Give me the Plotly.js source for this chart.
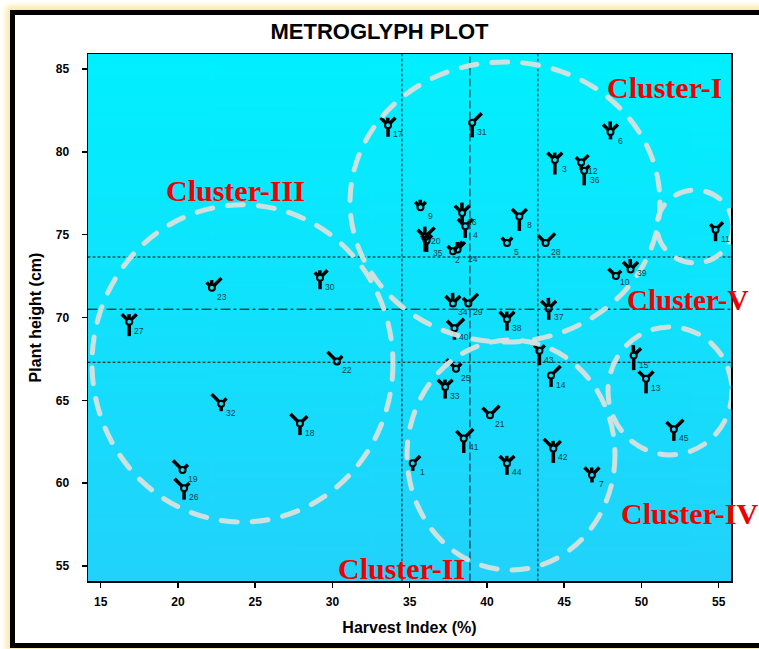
<!DOCTYPE html>
<html>
<head>
<meta charset="utf-8">
<script src="https://cdn.plot.ly/plotly-3.0.1.min.js"></script>
<style>
  html, body { margin:0; padding:0; background:#ffffff; overflow:hidden; width:759px; height:649px; }
  #frame { position:absolute; left:10px; top:10px; width:760px; height:628px; border:5px solid #000; border-right:none;
           background:#fff; box-shadow:0 0 6px 4px #f8e9a6; }
  #chart { position:absolute; left:0; top:0; width:759px; height:649px; }
</style>
</head>
<body>
<div id="frame"></div>
<div id="chart"></div>
<script>
// ---- data ----
const genotypes = ['1','2','3','4','5','6','7','8','9','10','11','12','13','14','15','16','17','18','19','20','21','22','23','24','25','26','27','28','29','30','31','32','33','34','35','36','37','38','39','40','41','42','43','44','45'];
const harvestIndex = [35.2,37.8,44.4,38.6,41.3,48.0,46.8,42.1,35.7,48.35,54.8,46.1,50.3,44.15,49.5,38.4,33.6,27.9,20.3,36.0,40.2,30.3,22.2,38.1,38.0,20.4,16.85,43.8,38.8,29.2,39.05,22.8,37.3,37.8,36.1,46.3,44.0,41.3,49.3,37.9,38.5,44.3,43.4,41.3,52.1];
const plantHeight = [61.2,74.0,79.5,75.5,74.5,81.2,60.5,76.1,76.65,72.5,75.3,79.35,66.3,66.5,67.7,76.3,81.6,63.6,60.8,74.85,64.1,67.35,71.8,74.1,66.9,59.7,69.75,74.5,70.85,72.4,81.75,64.8,65.8,70.85,74.65,78.85,70.55,69.9,72.9,69.35,62.7,62.1,68.0,61.2,63.25];
// glyph ray levels (0 = absent, 1 = low, 2 = medium, 3 = high)
const stemLevel = [1,0,3,2,0,1,1,3,0,0,2,1,3,2,3,2,2,2,0,3,0,0,0,0,0,2,3,0,0,2,3,1,2,0,2,3,2,2,0,2,3,3,3,2,2];
const upLeftLevel = [0,1,2,2,1,2,2,2,1,2,1,1,2,0,0,2,2,3,3,2,2,3,1,0,3,3,2,2,1,1,0,3,2,2,1,0,2,2,2,2,2,3,1,2,2];
const upLevel = [0,0,1,0,0,2,1,0,1,0,0,0,0,0,2,2,1,0,0,2,0,0,1,1,0,0,1,0,0,1,0,0,1,2,1,0,2,1,2,0,0,1,0,1,0];
const upRightLevel = [2,3,2,2,1,2,2,2,1,1,2,2,2,3,2,2,2,2,1,3,3,1,3,2,1,1,2,3,3,2,3,1,2,2,1,1,2,2,2,3,3,2,1,2,3];
// reference lines
const hiLines = [34.5, 38.9, 43.3];
const phLines = [67.3, 70.5, 73.65];
// clusters (centre and radii in data units)
const clusterNames = ['Cluster-I','Cluster-II','Cluster-III','Cluster-IV','Cluster-V'];
const clusterCx = [41.17, 41.56, 24.18, 51.85, 53.47];
const clusterCy = [76.97, 61.70, 67.23, 65.57, 75.49];
const clusterRx = [10.03, 6.73, 9.74, 4.01, 2.46];
const clusterRy = [8.45, 6.94, 9.57, 3.86, 2.20];
const xTicks = [15,20,25,30,35,40,45,50,55];
const yTicks = [55,60,65,70,75,80,85];

// ---- layout geometry ----
const W = 759, H = 649;
const M = {l:88, r:28, t:54, b:68};
const xRange = [14.18, 55.8], yRange = [54.1, 85.9];
const pw = W - M.l - M.r, ph = H - M.t - M.b;
const xpp = (xRange[1]-xRange[0])/pw, ypp = (yRange[1]-yRange[0])/ph;

const rayLen = [0, 5, 8, 11];
const stemLen = [0, 5, 9, 12];
const rays = [
  {lv: stemLevel, ang: -90, len: stemLen},
  {lv: upLeftLevel, ang: 135, len: rayLen},
  {lv: upLevel, ang: 92, len: rayLen},
  {lv: upRightLevel, ang: 45, len: rayLen}
];
const rx = [], ry = [];
const r0 = 2.5;
for (let i = 0; i < genotypes.length; i++) {
  rays.forEach(r => {
    const L = r.len[r.lv[i]];
    if (!L) return;
    const a = r.ang * Math.PI/180;
    rx.push(harvestIndex[i] + Math.cos(a)*r0*xpp, harvestIndex[i] + Math.cos(a)*(r0+L)*xpp, null);
    ry.push(plantHeight[i] + Math.sin(a)*r0*ypp, plantHeight[i] + Math.sin(a)*(r0+L)*ypp, null);
  });
}

const traces = [
  {type:'scatter', mode:'lines', x:rx, y:ry, line:{color:'#000', width:3.5}, hoverinfo:'skip', showlegend:false},
  {type:'scatter', mode:'markers', x:harvestIndex, y:plantHeight, text:genotypes,
   marker:{symbol:'circle-open', size:6, color:'#000', line:{width:2, color:'#000'}}, showlegend:false}
];

// background gradient
const cv = document.createElement('canvas'); cv.width = 8; cv.height = 256;
const g = cv.getContext('2d'); const gr = g.createLinearGradient(0,0,0,256);
gr.addColorStop(0,'#00f0ff'); gr.addColorStop(1,'#22d2fb');
g.fillStyle = gr; g.fillRect(0,0,8,256);

const shapes = [];
hiLines.forEach((v,k) => shapes.push({type:'line', xref:'x', yref:'paper', x0:v, x1:v, y0:0, y1:1,
  line:{color:'#000', width:1, dash: k===1 ? '7px,4px' : '2px,3px'}}));
phLines.forEach((v,k) => shapes.push({type:'line', xref:'paper', yref:'y', x0:0, x1:1, y0:v, y1:v,
  line:{color:'#000', width:1, dash: k===1 ? '9px,4px,2px,4px' : '2px,3px'}}));
clusterNames.forEach((n,k) => shapes.push({type:'circle', xref:'x', yref:'y',
  x0:clusterCx[k]-clusterRx[k], x1:clusterCx[k]+clusterRx[k], y0:clusterCy[k]-clusterRy[k], y1:clusterCy[k]+clusterRy[k],
  line:{color:'rgba(214,226,222,0.95)', width:5, dash:'16px,15px'}}));

// label offsets (px) where the default would collide
const labelShift = {'20':[11,-4], '35':[11,-13], '2':[5,-9], '24':[15,-9], '12':[12,-8], '36':[11,-9],
                    '10':[9,-6], '39':[11,-4]};
const annotations = [];
genotypes.forEach((n,i) => {
  const s = labelShift[n] || [10,-9];
  annotations.push({x:harvestIndex[i], y:plantHeight[i], text:n, showarrow:false,
    xshift:s[0], yshift:s[1], font:{family:'Liberation Sans Narrow, Liberation Sans, Arial', size:8.5, color:'#0c3d48'}});
});
const clusterPos = [[665,87],[401,568],[235,190],[690,513],[687,300]];
clusterNames.forEach((n,k) => annotations.push({xref:'paper', yref:'paper',
  x:(clusterPos[k][0]-M.l)/pw, y:1-(clusterPos[k][1]-M.t)/ph, text:n, showarrow:false,
  xanchor:'center', yanchor:'middle',
  font:{family:'Liberation Serif, Times New Roman', size:k===4 ? 29 : 30, color:'#ee0000', weight:'bold'}}));

const tickFont = {family:'Liberation Sans Narrow, Arial Narrow, Liberation Sans', size:12, color:'#000', weight:'bold'};
const layout = {
  width: W, height: H, margin: M,
  paper_bgcolor:'rgba(0,0,0,0)', plot_bgcolor:'#12e2fd',
  title:{text:'METROGLYPH PLOT', x:0.5, xref:'container', y:1-31/H, yref:'container', yanchor:'middle', xanchor:'center',
         font:{family:'Liberation Sans, Arial', size:22, color:'#000', weight:'bold'}},
  xaxis:{range:xRange, tickvals:xTicks, ticks:'outside', ticklen:5, tickwidth:1.5, tickcolor:'#000',
         showline:true, mirror:true, linecolor:'#000', linewidth:1.5, showgrid:false, zeroline:false,
         tickfont:tickFont, ticklabelstandoff:4,
         title:{text:'Harvest Index (%)', standoff:14, font:{family:'Liberation Sans, Arial', size:16, color:'#000', weight:'bold'}}},
  yaxis:{range:yRange, tickvals:yTicks, ticks:'outside', ticklen:5, tickwidth:1.5, tickcolor:'#000',
         showline:true, mirror:true, linecolor:'#000', linewidth:1.5, showgrid:false, zeroline:false,
         tickfont:tickFont, ticklabelstandoff:10,
         title:{text:'Plant height (cm)', standoff:10, font:{family:'Liberation Sans, Arial', size:16, color:'#000', weight:'bold'}}},
  images:[{source:cv.toDataURL(), xref:'paper', yref:'paper', x:0, y:1, sizex:1, sizey:1, sizing:'stretch', layer:'below'}],
  shapes: shapes,
  annotations: annotations
};

Plotly.newPlot('chart', traces, layout, {staticPlot:true, displayModeBar:false}).then(() => {
  document.querySelectorAll('.shapelayer path').forEach(p => p.style.strokeLinecap = 'round');
});
</script>
</body>
</html>
